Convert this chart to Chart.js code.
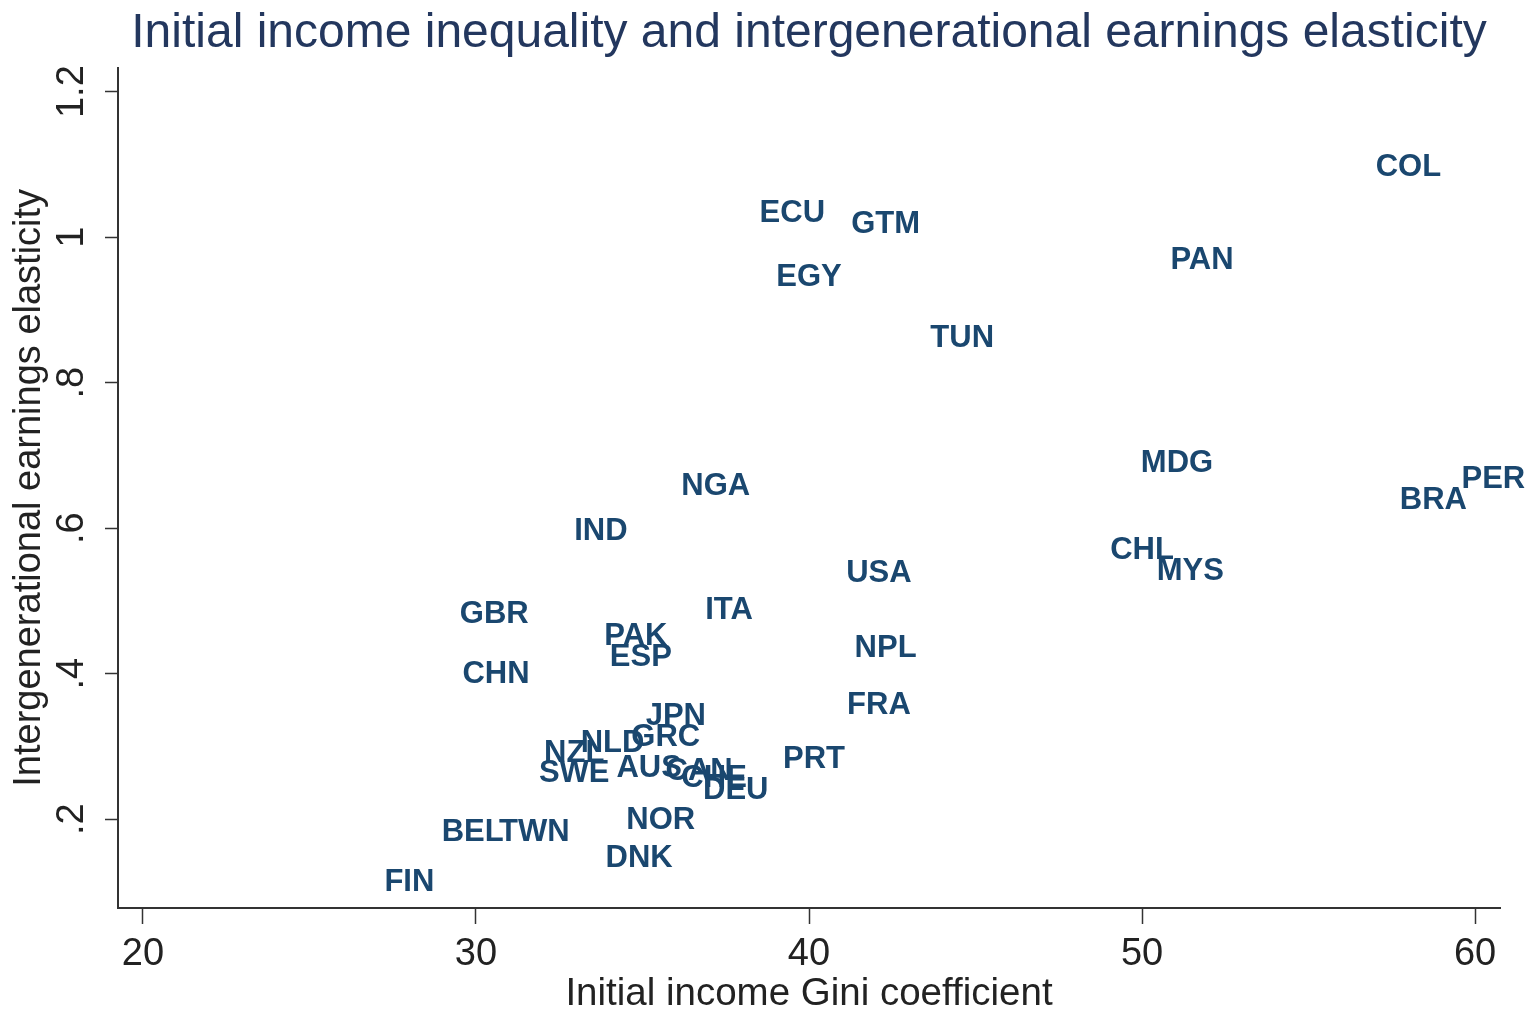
<!DOCTYPE html>
<html>
<head>
<meta charset="utf-8">
<script src="https://cdn.jsdelivr.net/npm/chart.js@4/dist/chart.umd.min.js"></script>
<style>
  html, body { margin: 0; padding: 0; background: #fff; }
  #wrap { width: 1528px; height: 1010px; }
</style>
</head>
<body>
<div id="wrap"><canvas id="chart" width="1528" height="1010"></canvas></div>
<script>
// country codes, initial Gini (x) and intergenerational elasticity (y)
const countries = ['COL', 'ECU', 'GTM', 'EGY', 'PAN', 'TUN', 'MDG', 'PER', 'BRA', 'NGA',
  'IND', 'CHL', 'MYS', 'USA', 'GBR', 'ITA', 'PAK', 'ESP', 'NPL', 'CHN',
  'FRA', 'JPN', 'GRC', 'NLD', 'NZL', 'SWE', 'AUS', 'CAN', 'CHE', 'DEU',
  'PRT', 'NOR', 'DNK', 'BEL', 'TWN', 'FIN'];
const gini = [58.0, 39.5, 42.3, 40.0, 51.8, 44.6, 51.05, 60.55, 58.75, 37.2,
  33.75, 50.0, 51.45, 42.1, 30.55, 37.6, 34.8, 34.95, 42.3, 30.6,
  42.1, 36.0, 35.7, 34.1, 32.95, 32.95, 35.2, 36.7, 37.15, 37.8,
  40.15, 35.55, 34.9, 29.9, 31.75, 28.0];
const elasticity = [1.096, 1.032, 1.017, 0.944, 0.968, 0.861, 0.689, 0.667, 0.638, 0.657,
  0.596, 0.569, 0.541, 0.538, 0.481, 0.487, 0.451, 0.422, 0.435, 0.399,
  0.356, 0.341, 0.312, 0.304, 0.291, 0.263, 0.270, 0.266, 0.256, 0.240,
  0.282, 0.198, 0.146, 0.182, 0.182, 0.113];

const xTicks = [20, 30, 40, 50, 60];
const yTicks = [0.2, 0.4, 0.6, 0.8, 1.0, 1.2];
const yTickLabels = ['.2', '.4', '.6', '.8', '1', '1.2'];

const NAVY = '#1a476f';
const AXIS = '#333333';
const FONT = "'Liberation Sans', Arial, sans-serif";

// draws the country code centred on each point
const markerLabels = {
  id: 'markerLabels',
  afterDatasetsDraw(chart) {
    const ctx = chart.ctx;
    const meta = chart.getDatasetMeta(0);
    ctx.save();
    ctx.fillStyle = NAVY;
    ctx.font = 'bold 31px ' + FONT;
    ctx.textAlign = 'center';
    ctx.textBaseline = 'middle';
    meta.data.forEach((pt, i) => {
      ctx.fillText(countries[i], pt.x, pt.y);
    });
    ctx.restore();
  }
};

// y tick labels turned 90 degrees, like the original
const yRotLabels = {
  id: 'yRotLabels',
  afterDraw(chart) {
    const ctx = chart.ctx;
    const sc = chart.scales.y;
    ctx.save();
    ctx.fillStyle = '#222';
    ctx.font = '38px ' + FONT;
    ctx.textAlign = 'center';
    ctx.textBaseline = 'middle';
    yTicks.forEach((v, i) => {
      const py = sc.getPixelForValue(v);
      ctx.save();
      ctx.translate(73, py);
      ctx.rotate(-Math.PI / 2);
      ctx.fillText(yTickLabels[i], 0, 0);
      ctx.restore();
    });
    ctx.restore();
  }
};

const ctx = document.getElementById('chart').getContext('2d');
new Chart(ctx, {
  type: 'scatter',
  data: {
    datasets: [{
      data: gini.map((g, i) => ({ x: g, y: elasticity[i] })),
      pointRadius: 0,
      pointHoverRadius: 0
    }]
  },
  options: {
    responsive: false,
    animation: false,
    events: [],
    layout: { padding: { left: 0, right: 28, top: 0, bottom: 0 } },
    plugins: {
      legend: { display: false },
      tooltip: { enabled: false },
      title: {
        display: true,
        fullSize: false,
        text: 'Initial income inequality and intergenerational earnings elasticity',
        color: '#23375e',
        font: { family: FONT, size: 48, weight: 'normal', lineHeight: 1.2 },
        padding: { top: 5, bottom: 5 }
      }
    },
    scales: {
      x: {
        type: 'linear',
        min: 19.25,
        max: 60.75,
        afterBuildTicks: (s) => { s.ticks = xTicks.map(v => ({ value: v })); },
        afterFit: (s) => { s.height = 102; },
        border: { display: true, color: AXIS, width: 2 },
        grid: { drawOnChartArea: false, drawTicks: true, tickLength: 16, color: AXIS, tickWidth: 1.5 },
        ticks: { color: '#222', font: { family: FONT, size: 38 }, padding: 8, maxRotation: 0 },
        title: {
          display: true,
          text: 'Initial income Gini coefficient',
          color: '#222',
          font: { family: FONT, size: 38.5, lineHeight: 0.8 },
          padding: { top: 0, bottom: 0 }
        }
      },
      y: {
        type: 'linear',
        min: 0.078,
        max: 1.233,
        afterBuildTicks: (s) => { s.ticks = yTicks.map(v => ({ value: v })); },
        afterFit: (s) => { s.width = 118; },
        border: { display: true, color: AXIS, width: 2 },
        grid: { drawOnChartArea: false, drawTicks: true, tickLength: 13, color: AXIS, tickWidth: 1.5 },
        ticks: { display: false },
        title: {
          display: true,
          text: 'Intergenerational earnings elasticity',
          color: '#222',
          font: { family: FONT, size: 38 },
          padding: { top: 7, bottom: 0 }
        }
      }
    }
  },
  plugins: [markerLabels, yRotLabels]
});
</script>
</body>
</html>
